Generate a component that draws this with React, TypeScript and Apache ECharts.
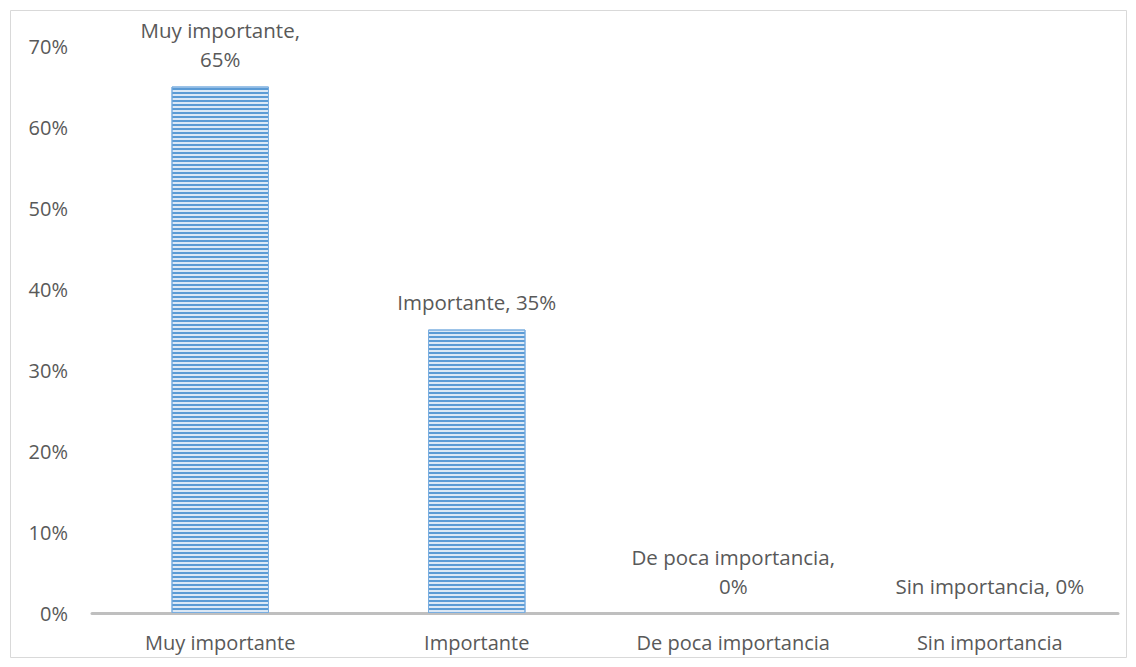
import React, { useEffect, useRef } from "react";
import * as echarts from "echarts";

const categories = ["Muy importante", "Importante", "De poca importancia", "Sin importancia"];
const values = [0.65, 0.35, 0, 0];
const dataLabels = ["Muy importante,\n65%", "Importante, 35%", "De poca importancia,\n0%", "Sin importancia, 0%"];
const yTicks = [0, 0.1, 0.2, 0.3, 0.4, 0.5, 0.6, 0.7];

const FONT = "'Open Sans', 'Noto Sans', sans-serif";
const TEXT = "#595959";

export default function App() {
  const ref = useRef<HTMLDivElement>(null);
  useEffect(() => {
    if (!ref.current) return;
    const chart = echarts.init(ref.current, undefined, { renderer: "svg" });
    chart.setOption({
      animation: false,
      textStyle: { fontFamily: FONT },
      graphic: [
        {
          type: "rect",
          shape: { x: 10.5, y: 10.5, width: 1116, height: 647 },
          style: { fill: "none", stroke: "#d9d9d9", lineWidth: 1 },
          silent: true,
        },
      ],
      grid: { left: 92, right: 18, top: 46, bottom: 54, containLabel: false },
      xAxis: {
        type: "category",
        data: categories,
        axisLine: { lineStyle: { color: "#bfbfbf", width: 3 } },
        axisTick: { show: false },
        axisLabel: { color: TEXT, fontSize: 20, margin: 19, fontFamily: FONT },
      },
      yAxis: {
        type: "value",
        min: 0,
        max: yTicks[yTicks.length - 1],
        interval: 0.1,
        splitLine: { show: false },
        axisLine: { show: false },
        axisTick: { show: false },
        axisLabel: {
          color: TEXT,
          fontSize: 20,
          margin: 24,
          fontFamily: FONT,
          formatter: (v: number) => `${Math.round(v * 100)}%`,
        },
      },
      series: [
        {
          type: "bar",
          data: values.map((v, i) => ({
            value: v,
            label: { formatter: dataLabels[i] },
            itemStyle: v === 0 ? { borderWidth: 0, opacity: 0 } : undefined,
          })),
          barWidth: "38%",
          itemStyle: {
            color: "#dbe8f6",
            borderColor: "#7aaee0",
            borderWidth: 1,
            decal: {
              symbol: "rect",
              symbolSize: 1,
              color: "#5b9bd5",
              dashArrayX: [1, 0],
              dashArrayY: [2, 1.4],
              rotation: 0,
            },
          },
          label: {
            show: true,
            position: "top",
            distance: 13,
            color: TEXT,
            fontSize: 20.5,
            lineHeight: 29,
            align: "center",
            fontFamily: FONT,
            opacity: 1,
          },
        },
      ],
    });
    return () => chart.dispose();
  }, []);
  return <div ref={ref} style={{ width: 1136, height: 667, position: "absolute", left: 0, top: 0, background: "#fff" }} />;
}
